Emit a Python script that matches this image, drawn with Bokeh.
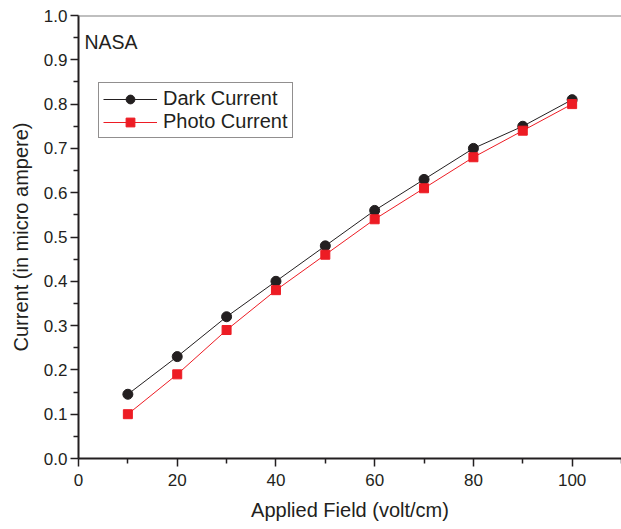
from bokeh.plotting import figure
from bokeh.models import Range1d, Label, Span, Legend, LegendItem, FixedTicker, NumeralTickFormatter
from bokeh.embed import file_html
from bokeh.resources import INLINE

field = [10, 20, 30, 40, 50, 60, 70, 80, 90, 100]
dark_current = [0.145, 0.23, 0.32, 0.40, 0.48, 0.56, 0.63, 0.70, 0.75, 0.81]
photo_current = [0.10, 0.19, 0.29, 0.38, 0.46, 0.54, 0.61, 0.68, 0.74, 0.80]

FONT = "Liberation Sans"
TXT = "#231f20"

p = figure(width=621, height=529, output_backend="svg", toolbar_location=None,
           x_range=Range1d(0, 110), y_range=Range1d(0, 1.0),
           min_border_left=78, min_border_right=0, min_border_top=15, min_border_bottom=71)
p.outline_line_color = None
p.grid.visible = False
p.background_fill_color = "white"
p.border_fill_color = "white"

p.xaxis.ticker = FixedTicker(ticks=[0, 20, 40, 60, 80, 100], minor_ticks=[10, 30, 50, 70, 90, 110])
p.yaxis.ticker = FixedTicker(ticks=[round(i * 0.1, 1) for i in range(11)],
                             minor_ticks=[round(0.05 + i * 0.1, 2) for i in range(10)])
p.yaxis.formatter = NumeralTickFormatter(format="0.0")

for ax in (p.xaxis[0], p.yaxis[0]):
    ax.axis_line_color = TXT
    ax.axis_line_width = 2
    ax.major_tick_line_color = TXT
    ax.minor_tick_line_color = TXT
    ax.major_tick_line_width = 1.5
    ax.minor_tick_line_width = 1.5
    ax.major_tick_out = 8
    ax.major_tick_in = 0
    ax.minor_tick_out = 5
    ax.minor_tick_in = 0
    ax.major_label_text_font = FONT
    ax.major_label_text_font_size = "17px"
    ax.major_label_text_color = TXT
    ax.axis_label_text_font = FONT
    ax.axis_label_text_font_size = "20px"
    ax.axis_label_text_font_style = "normal"
    ax.axis_label_text_color = TXT

p.xaxis.axis_label = "Applied Field (volt/cm)"
p.yaxis.axis_label = "Current (in micro ampere)"
p.xaxis.major_label_standoff = 7
p.yaxis.major_label_standoff = 3
p.xaxis.axis_label_standoff = 10
p.yaxis.axis_label_standoff = 9

top = Span(location=1.0, dimension="width", line_color="#808080", line_width=2)
p.add_layout(top)

l1 = p.line(field, dark_current, line_color="#231f20", line_width=1)
c1 = p.scatter(field, dark_current, marker="circle", size=10, fill_color="#231f20", line_color="#231f20")
l2 = p.line(field, photo_current, line_color="#ed1c24", line_width=1)
c2 = p.scatter(field, photo_current, marker="square", size=9, fill_color="#ed1c24", line_color="#ed1c24")

legend = Legend(items=[LegendItem(label="Dark Current", renderers=[l1, c1]),
                       LegendItem(label="Photo Current", renderers=[l2, c2])],
                location=(20, 320))
legend.label_text_font = FONT
legend.label_text_font_size = "20px"
legend.label_text_color = TXT
legend.border_line_color = TXT
legend.border_line_width = 1
legend.padding = 4
legend.spacing = 0
legend.margin = 0
legend.glyph_width = 54
legend.label_standoff = 6
legend.label_height = 22
legend.glyph_height = 22
p.add_layout(legend, "center")

p.add_layout(Label(x=1.2, y=0.941, text="NASA", text_font=FONT, text_font_size="19.5px",
                   text_color=TXT, text_baseline="middle"))

open("out.html", "w").write(file_html(p, INLINE))
